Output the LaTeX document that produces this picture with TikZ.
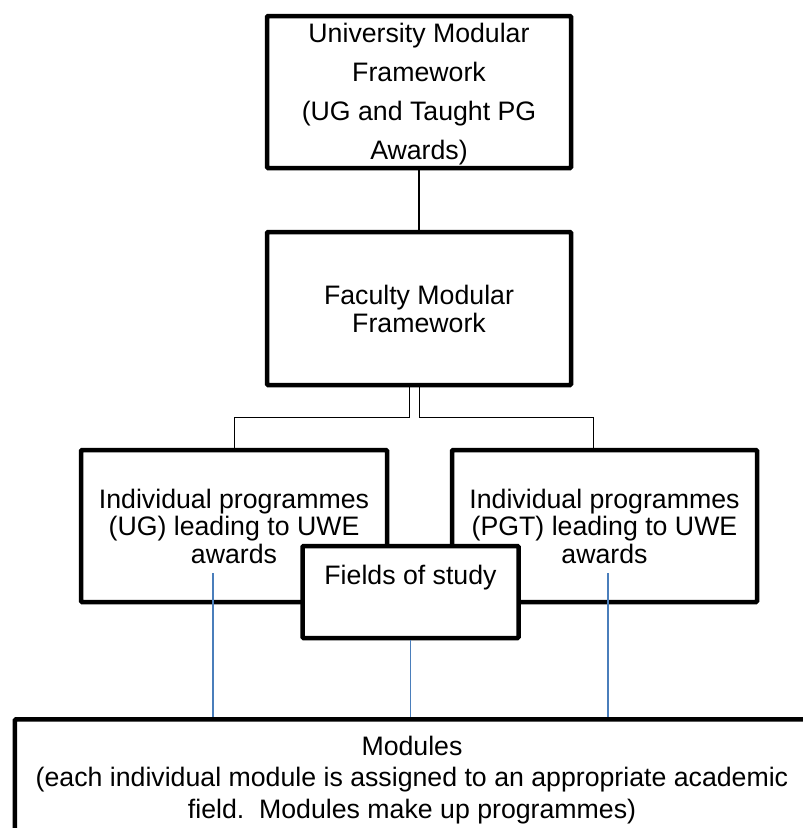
\documentclass[tikz,border=0pt]{standalone}
\usepackage{fontspec}
\setmainfont{Liberation Sans}
\definecolor{linkblue}{RGB}{74,126,187}
\begin{document}
\begin{tikzpicture}[x=1pt,y=-1pt,
  box/.style={draw=black,line width=4.5pt,fill=white,rounded corners=1pt,inner sep=0pt},
  txt/.style={align=center,inner sep=0pt,font=\fontsize{26.7}{27.5}\selectfont},
  conn/.style={draw=black,line width=1.3pt},
  bconn/.style={draw=linkblue,line width=1.3pt}]
\useasboundingbox (0,0) rectangle (803,828);
% top box
\node[box,minimum width=304pt,minimum height=152pt] (top) at (419,92) {};
\node[txt,font=\fontsize{26.7}{39}\selectfont] (toptxt) at (419,94) {University Modular\\Framework\\(UG and Taught PG\\Awards)};
% faculty
\node[box,minimum width=304pt,minimum height=153pt] (fac) at (419,308.5) {};
\node[txt] (factxt) at (419,309) {Faculty Modular\\Framework};
% individual programmes
\node[box,minimum width=306pt,minimum height=152pt] (ug) at (234,526) {};
\node[txt] (ugtxt) at (234,526) {Individual programmes\\(UG) leading to UWE\\awards};
\node[box,minimum width=305pt,minimum height=152pt] (pgt) at (604.5,526) {};
\node[txt] (pgttxt) at (604.5,526) {Individual programmes\\(PGT) leading to UWE\\awards};
% connectors
\draw[conn] (top.south) -- (fac.north);
\draw[conn] ([xshift=-9.7pt]fac.south) -- ++(0,30) -| ([xshift=0.3pt]ug.north);
\draw[conn] ([xshift=0.3pt]fac.south) -- ++(0,30) -| ([xshift=-11.2pt]pgt.north);
% modules
\begin{scope}
\clip (0,0) rectangle (803,828);
\node[box,minimum width=830pt,minimum height=200pt,anchor=north west] (mod) at (12.7,717) {};
\end{scope}
\node[txt,font=\fontsize{26.7}{31.5}\selectfont] (modtxt) at (412,780) {Modules\\(each individual module is assigned to an appropriate academic\\field.\ \ Modules make up programmes)};
% blue links
\coordinate (ub) at (213,573);
\coordinate (pb) at (608,573);
\draw[bconn] (ub) -- (ub |- mod.north);
\draw[bconn] (pb) -- (pb |- mod.north);
% fields
\node[box,minimum width=216pt,minimum height=92pt] (fields) at (410.5,592) {};
\node[txt] (fieldstxt) at (410.5,578) {Fields of study};
\draw[bconn] (fields.south) -- (fields.south |- mod.north);
\end{tikzpicture}
\end{document}
